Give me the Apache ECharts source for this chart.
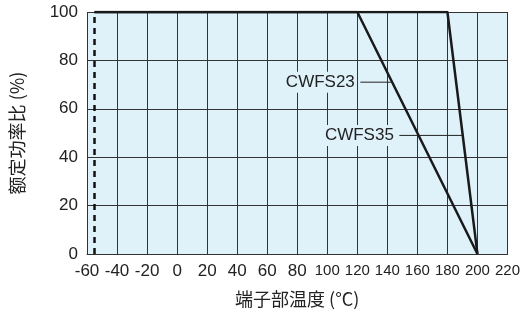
<!DOCTYPE html>
<html>
<head>
<meta charset="utf-8">
<script src="https://cdn.jsdelivr.net/npm/echarts@6/dist/echarts.min.js"></script>
<style>
  html, body { margin: 0; padding: 0; background: #fff; }
  #chart { width: 523px; height: 313px; }
</style>
</head>
<body>
<div id="chart"></div>
<script>
// derating curves: [temperature, rated power %]
const cwfs23 = [[-55, 100], [120, 100], [200, 0]]
const cwfs35 = [[-55, 100], [180, 100], [200, 0]]
const lowLimit = [[-55, 0], [-55, 100]]
// leader lines for the series labels
const leader23 = [[122, 71], [143, 71]]
const leader35 = [[148, 49], [190, 49]]
const xTicks = [-60, 220, 20]
const yTicks = [0, 100, 20]

const chart = echarts.init(document.getElementById('chart'))
const font = '"Liberation Sans", Arial, sans-serif'
const bg = '#dff2fa'

function tag(text, at) {
  return {
    symbol: 'rect',
    symbolSize: 1,
    itemStyle: { color: 'transparent' },
    label: {
      show: true,
      formatter: text,
      position: 'left',
      distance: 3,
      color: '#222',
      fontSize: 17,
      fontFamily: font,
      backgroundColor: bg,
      padding: [2, 2, 2, 3]
    },
    data: [{ coord: at }]
  }
}

chart.setOption({
  animation: false,
  grid: {
    left: 87,
    right: 11,
    top: 12,
    bottom: 59,
    show: true,
    backgroundColor: bg,
    borderWidth: 0
  },
  xAxis: {
    type: 'value',
    min: xTicks[0],
    max: xTicks[1],
    interval: xTicks[2],
    name: '端子部温度 (°C)',
    nameLocation: 'middle',
    nameGap: 36,
    nameTextStyle: { fontSize: 18, color: '#222', fontFamily: '"Noto Sans CJK JP", sans-serif' },
    axisLine: { lineStyle: { color: '#333', width: 1 } },
    axisTick: { show: false },
    axisLabel: {
      margin: 9,
      color: '#222',
      fontSize: 17,
      fontFamily: font,
      formatter: function (v) {
        return v >= 100 ? '{n|' + v + '}' : String(v)
      },
      rich: {
        n: { fontSize: 15, fontFamily: font, color: '#222' }
      }
    },
    splitLine: { show: true, lineStyle: { color: '#333', width: 1 } }
  },
  yAxis: {
    type: 'value',
    min: yTicks[0],
    max: yTicks[1],
    interval: yTicks[2],
    name: '额定功率比 (%)',
    nameLocation: 'middle',
    nameGap: 61,
    nameTextStyle: { fontSize: 18, color: '#222', fontFamily: '"Noto Sans CJK SC", sans-serif' },
    axisLine: { show: true, lineStyle: { color: '#333', width: 1 } },
    axisTick: { show: false },
    axisLabel: { margin: 9, color: '#222', fontSize: 17, fontFamily: font },
    splitLine: { show: true, lineStyle: { color: '#333', width: 1 } }
  },
  series: [
    {
      type: 'line',
      data: lowLimit,
      symbol: 'none',
      lineStyle: { color: '#111', width: 2.5, type: [6, 5] }
    },
    {
      type: 'line',
      data: cwfs23,
      symbol: 'none',
      lineStyle: { color: '#1a1a1a', width: 2.5 }
    },
    {
      type: 'line',
      data: cwfs35,
      symbol: 'none',
      lineStyle: { color: '#1a1a1a', width: 2.5 }
    },
    {
      type: 'line',
      data: leader23,
      symbol: 'none',
      lineStyle: { color: '#222', width: 1 },
      markPoint: tag('CWFS23', leader23[0])
    },
    {
      type: 'line',
      data: leader35,
      symbol: 'none',
      lineStyle: { color: '#222', width: 1 },
      markPoint: tag('CWFS35', leader35[0])
    }
  ]
})
</script>
</body>
</html>
